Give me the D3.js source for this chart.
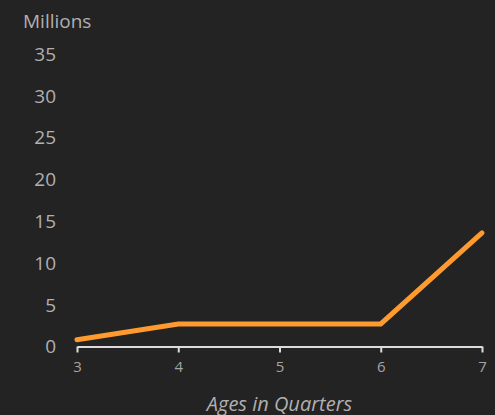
<!DOCTYPE html>
<html>
<head>
<meta charset="utf-8">
<script src="https://cdn.jsdelivr.net/npm/d3@7"></script>
<style>
  html, body { margin: 0; padding: 0; background: #232323; }
  svg { display: block; }
</style>
</head>
<body>
<svg id="chart" width="495" height="415"></svg>
<script>
// Population by age (in quarters), in millions
const ages = [3, 4, 5, 6, 7];
const millions = [0.8, 2.7, 2.7, 2.7, 13.6];
const yTicks = [0, 5, 10, 15, 20, 25, 30, 35];
const yTitle = "Millions";
const xTitle = "Ages in Quarters";

const width = 495, height = 415;
const margin = { left: 77, right: 13, top: 54, bottom: 68 };

const svg = d3.select("#chart");
svg.append("rect").attr("width", width).attr("height", height).attr("fill", "#232323");

const x = d3.scaleLinear().domain([3, 7]).range([margin.left, width - margin.right]);
const y = d3.scaleLinear().domain([0, 35]).range([height - margin.bottom - 0.5, margin.top]);

const font = "'Open Sans', 'Noto Sans', sans-serif";
const textColor = "#b0b0b0";

// y labels (no axis line)
svg.append("g")
  .selectAll("text")
  .data(yTicks)
  .join("text")
  .attr("x", 56)
  .attr("y", d => y(d))
  .attr("dy", "0.36em")
  .attr("text-anchor", "end")
  .attr("fill", textColor)
  .style("font-family", font)
  .style("font-size", "19px")
  .text(d => d);

svg.append("text")
  .attr("x", 23)
  .attr("y", 28)
  .attr("fill", textColor)
  .style("font-family", font)
  .style("font-size", "19px")
  .text(yTitle);

// x axis
const xAxis = svg.append("g")
  .attr("transform", `translate(0,${y(0)})`)
  .call(d3.axisBottom(x).tickValues(ages).tickFormat(d3.format("d")).tickSize(6).tickSizeOuter(0).tickPadding(9));
xAxis.select(".domain").attr("stroke", "#dcdcdc").attr("stroke-width", 2);
xAxis.selectAll(".tick line").attr("stroke", "#dcdcdc").attr("stroke-width", 2);
xAxis.selectAll(".tick text")
  .attr("fill", "#a4a4a4")
  .style("font-family", font)
  .style("font-size", "15px");

svg.append("text")
  .attr("x", (x(3) + x(7)) / 2)
  .attr("y", 411)
  .attr("text-anchor", "middle")
  .attr("fill", textColor)
  .style("font-family", font)
  .style("font-size", "20px")
  .style("font-style", "italic")
  .text(xTitle);

// data line
const line = d3.line().x((d, i) => x(ages[i])).y(d => y(d));
svg.append("path")
  .datum(millions)
  .attr("d", line)
  .attr("fill", "none")
  .attr("stroke", "#ff9a2e")
  .attr("stroke-width", 5)
  .attr("stroke-linejoin", "miter")
  .attr("stroke-linecap", "round");
</script>
</body>
</html>
